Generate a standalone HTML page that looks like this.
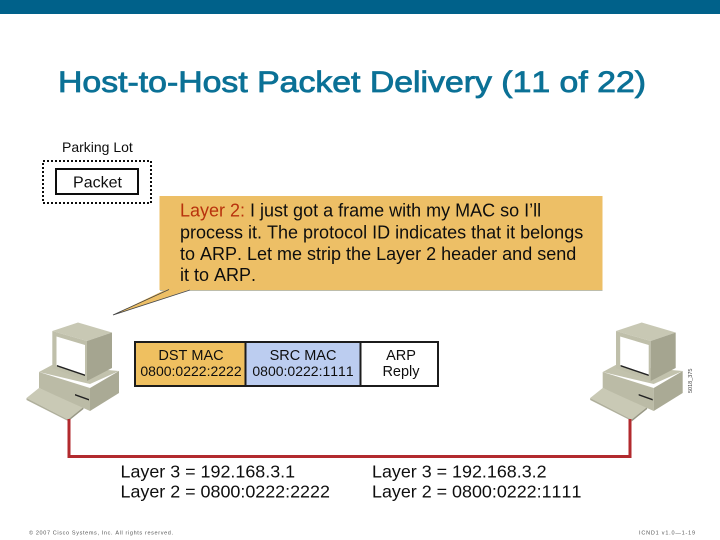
<!DOCTYPE html>
<html><head><meta charset="utf-8"><style>
html,body{margin:0;padding:0;background:#fff}
svg{display:block}
text{font-family:"Liberation Sans",sans-serif;font-kerning:none}
</style></head><body>
<svg xmlns="http://www.w3.org/2000/svg" width="720" height="540" viewBox="0 0 720 540">
<defs>
<filter id="s" x="-2%" y="-2%" width="104%" height="104%"><feGaussianBlur stdDeviation="0.35"/></filter>
<g id="pc">
<polygon points="26.500,398 39,388 83.500,407 68,419.500" fill="#c9c9b5"/>
<polygon points="26.500,398 68,419.500 68,421 26.500,400" fill="#b0b09c"/>
<polygon points="68,419.500 83.500,407 83.500,409 68,421.500" fill="#989885"/>
<polygon points="39,372 52,365 119,371 90,384" fill="#c2c2ad"/>
<polygon points="39,372 90,388 90,411 39,388" fill="#bbbba6"/>
<polygon points="90,388 119,371 119,393 90,411" fill="#aaaa95"/>
<polygon points="75,394 89,399 89,400.500 75,395.500" fill="#222"/>
<polygon points="52.300,331 78,322.500 112,332.500 87,341" fill="#c8c8b4"/>
<polygon points="52.300,331 87,341 87,381 52.300,368" fill="#bfbfaa"/>
<polygon points="87,341 112,332.500 112,368 87,381" fill="#a5a590"/>
<polygon points="56.500,336.500 85,345 85,375 56.500,365" fill="#fff"/>
<polygon points="57,365 85,374.500 85,376 57,366.500" fill="#222"/>
</g>
</defs>
<rect width="720" height="540" fill="#fff"/>
<rect width="720" height="14" fill="#00618a"/>
<text x="58" y="92" font-size="29.500" fill="#0b7196" stroke="#0b7196" stroke-width="0.800" textLength="588" lengthAdjust="spacingAndGlyphs">Host-to-Host Packet Delivery (11 of 22)</text>

<g filter="url(#s)">
<text x="62" y="152" font-size="14" fill="#111">Parking Lot</text>
<rect x="43" y="161" width="108" height="42" fill="none" stroke="#111" stroke-width="2" stroke-dasharray="2 2"/>
<rect x="56" y="169" width="82" height="25" fill="#fff" stroke="#111" stroke-width="2"/>
<text x="97.500" y="187.500" font-size="16" fill="#111" text-anchor="middle">Packet</text>

<rect x="159.500" y="196" width="443" height="94" fill="#edbf66"/>
<path d="M160 290.500H169M190 290.500H602.500" stroke="#bdbdab" stroke-width="1"/>
<polygon points="169,288 113,315 190,289.500" fill="#edbf66"/>
<path d="M169 289.500L113 315L190 290" fill="none" stroke="#444" stroke-width="0.800"/>
<text font-size="18" fill="#111">
<tspan x="180" y="216.500"><tspan fill="#b8320c">Layer 2:</tspan> I just got a frame with my MAC so I’ll</tspan>
<tspan x="180" y="238.500">process it. The protocol ID indicates that it belongs</tspan>
<tspan x="180" y="260">to ARP. Let me strip the Layer 2 header and send</tspan>
<tspan x="180" y="281">it to ARP.</tspan>
</text>

<use href="#pc"/>
<use href="#pc" x="563.700"/>

<path d="M69 419V456.500H630V419" fill="none" stroke="#b22a2e" stroke-width="3"/>

<rect x="135" y="342" width="110" height="44" fill="#efc060"/>
<rect x="245" y="342" width="115" height="44" fill="#bccdf0"/>
<rect x="360" y="342" width="78" height="44" fill="#fff"/>
<rect x="135" y="342" width="303" height="44" fill="none" stroke="#1c1c1c" stroke-width="2"/>
<path d="M245.500 342V386M360.500 342V386" stroke="#1c1c1c" stroke-width="2"/>
<g font-size="14.500" fill="#111" text-anchor="middle">
<text x="191" y="360">DST MAC</text>
<text x="191" y="376" font-size="14">0800:0222:2222</text>
<text x="303" y="360">SRC MAC</text>
<text x="303" y="376" font-size="14">0800:0222:1111</text>
<text x="401" y="360">ARP</text>
<text x="401" y="376">Reply</text>
</g>

<g font-size="17.900" fill="#111">
<text x="120.500" y="477.500">Layer 3 = 192.168.3.1</text>
<text x="120.500" y="497.500">Layer 2 = 0800:0222:2222</text>
<text x="372" y="477.500">Layer 3 = 192.168.3.2</text>
<text x="372" y="497.500">Layer 2 = 0800:0222:1111</text>
</g>

<text transform="translate(692,393) rotate(-90)" font-size="5.500" fill="#444">5018_375</text>
</g>
<text x="29" y="534.500" font-size="5.500" fill="#555" textLength="144" lengthAdjust="spacing">© 2007 Cisco Systems, Inc. All rights reserved.</text>
<text x="639" y="534.500" font-size="5.500" fill="#555" textLength="56" lengthAdjust="spacing">ICND1 v1.0—1-19</text>
</svg>
</body></html>
